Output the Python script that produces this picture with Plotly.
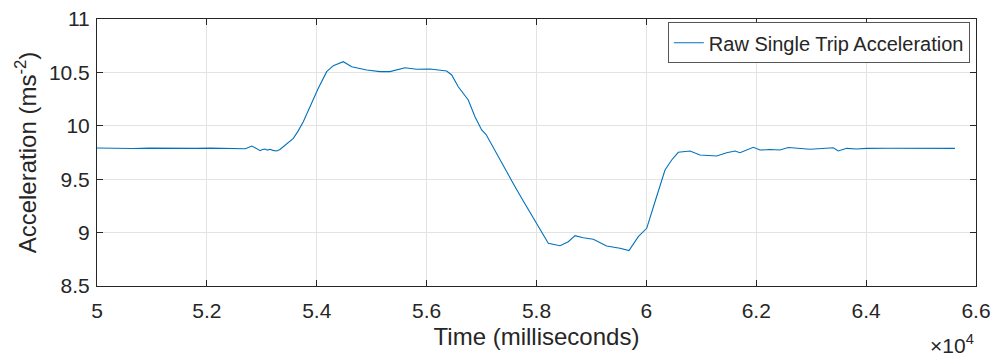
import plotly.graph_objects as go

# Time (ms) and raw acceleration (m/s^2)
time_ms = [50000, 50200, 50420, 50650, 50960, 51200, 51510, 51800, 52060, 52330,
           52600, 52700, 52820, 52890, 52970, 53010, 53060, 53100, 53150, 53200,
           53271, 53330, 53391, 53480, 53573, 53660, 53755, 53877, 54028, 54181,
           54301, 54483, 54636, 54909, 55151, 55333, 55606, 55819, 56061, 56365,
           56456, 56576, 56680, 56758, 56880, 57002, 57080, 57153, 57250, 57335,
           57420, 57517, 57620, 57730, 57860, 58003, 58215, 58428, 58579, 58701,
           58852, 59034, 59277, 59519, 59683, 59853, 60006, 60157, 60339, 60461,
           60581, 60794, 60976, 61280, 61462, 61613, 61704, 61946, 62068, 62250,
           62432, 62583, 62796, 62978, 63200, 63402, 63493, 63646, 63828, 64010,
           64400, 64853, 65250, 65617]
accel = [9.792, 9.790, 9.793, 9.788, 9.791, 9.789, 9.792, 9.789, 9.791, 9.790,
         9.790, 9.785, 9.811, 9.792, 9.767, 9.778, 9.783, 9.772, 9.780, 9.770,
         9.764, 9.778, 9.804, 9.840, 9.883, 9.950, 10.038, 10.179, 10.351, 10.507,
         10.563, 10.600, 10.553, 10.522, 10.507, 10.507, 10.544, 10.529, 10.532, 10.513,
         10.476, 10.366, 10.300, 10.242, 10.085, 9.961, 9.920, 9.851, 9.770, 9.680,
         9.600, 9.508, 9.420, 9.321, 9.210, 9.087, 8.900, 8.877, 8.915, 8.971,
         8.952, 8.937, 8.875, 8.853, 8.831, 8.962, 9.040, 9.289, 9.586, 9.680,
         9.752, 9.764, 9.727, 9.717, 9.748, 9.764, 9.748, 9.799, 9.773, 9.778,
         9.773, 9.797, 9.789, 9.780, 9.788, 9.795, 9.764, 9.789, 9.783, 9.789,
         9.790, 9.789, 9.790, 9.789]

x_tick_vals = [50000, 52000, 54000, 56000, 58000, 60000, 62000, 64000, 66000]
x_tick_text = ["5", "5.2", "5.4", "5.6", "5.8", "6", "6.2", "6.4", "6.6"]
y_tick_vals = [8.5, 9, 9.5, 10, 10.5, 11]
y_tick_text = ["8.5", "9", "9.5", "10", "10.5", "11"]

FONT = "Liberation Sans, Arial, sans-serif"
TXT = "#262626"
GRID = "#e3e3e3"

fig = go.Figure()
fig.add_trace(go.Scatter(
    x=time_ms, y=accel, mode="lines",
    line=dict(color="#0072BD", width=1.1),
    name="Raw Single Trip Acceleration",
))

axis_common = dict(
    showline=True, linecolor=TXT, linewidth=1, mirror="ticks",
    ticks="inside", ticklen=6, tickcolor=TXT, tickwidth=1,
    showgrid=True, gridcolor=GRID, gridwidth=1, zeroline=False,
    automargin=False,
    tickfont=dict(family=FONT, size=21, color=TXT),
)

fig.update_layout(
    width=993, height=356,
    margin=dict(l=97, r=17, t=19, b=70),
    paper_bgcolor="white", plot_bgcolor="white",
    font=dict(family=FONT, color=TXT),
    xaxis=dict(range=[50000, 66000], tickvals=x_tick_vals, ticktext=x_tick_text,
               ticklabelstandoff=6,
               title=dict(text="Time (milliseconds)", font=dict(family=FONT, size=24, color=TXT), standoff=6),
               **axis_common),
    yaxis=dict(range=[8.5, 11], tickvals=y_tick_vals, ticktext=y_tick_text,
               ticklabelstandoff=2,
               title=dict(text="Acceleration (ms<sup>-2</sup>)", font=dict(family=FONT, size=24, color=TXT), standoff=5),
               **axis_common),
    showlegend=True,
    legend=dict(x=0.993, xanchor="right", y=0.988, yanchor="top",
                bgcolor="white", bordercolor="#555555", borderwidth=1,
                font=dict(family=FONT, size=20, color=TXT),
                itemwidth=30, tracegroupgap=0),
)

fig.add_annotation(
    text="×10<sup>4</sup>", xref="paper", yref="paper",
    x=1.0, xanchor="right", y=0, yanchor="top", yshift=-43,
    showarrow=False, font=dict(family=FONT, size=21, color=TXT),
)

fig.write_html("out.html", config={"displayModeBar": False},
               post_script="document.body.style.margin='0';document.body.style.padding='0';")
